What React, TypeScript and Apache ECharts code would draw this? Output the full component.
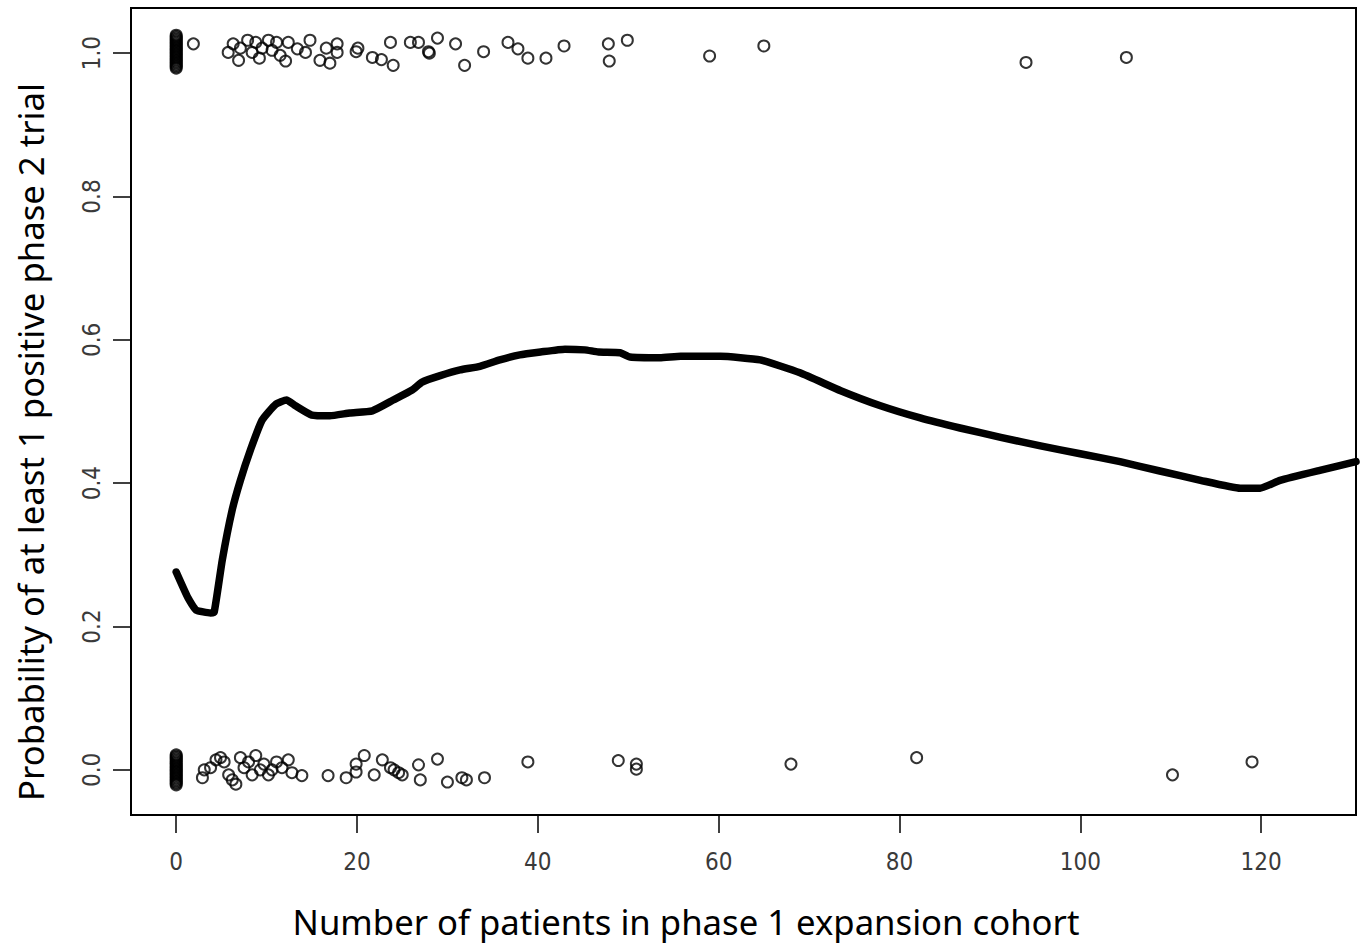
import React, { useEffect, useRef } from "react";
import * as echarts from "echarts";

const xTicks = [0, 20, 40, 60, 80, 100, 120];
const yTicks = [0, 0.2, 0.4, 0.6, 0.8, 1.0];

const zeroTopY = [1.025, 1.023, 1.021, 1.019, 1.017, 1.015, 1.013, 1.011, 1.009, 1.007, 1.005, 1.003, 1.001, 0.999, 0.997, 0.995, 0.993, 0.991, 0.989, 0.987, 0.985, 0.983, 0.981, 0.979];
const zeroBotY = [0.021, 0.019, 0.017, 0.015, 0.013, 0.011, 0.009, 0.007, 0.005, 0.003, 0.001, -0.001, -0.003, -0.005, -0.007, -0.009, -0.011, -0.013, -0.015, -0.017, -0.019, -0.021];

const topX = [1.9, 5.75, 6.3, 6.9, 7.1, 7.9, 8.4, 8.8, 9.2, 9.5, 10.2, 10.6, 11.1, 11.5, 12.1, 12.4, 13.4, 14.3, 14.8, 15.9, 16.6, 17.0, 17.8, 17.8, 19.9, 20.1, 21.7, 22.7, 23.7, 24.0, 25.9, 26.8, 27.9, 28.0, 28.9, 30.9, 31.9, 34.0, 36.7, 37.8, 38.9, 40.9, 42.9, 47.8, 47.9, 49.9, 59.0, 65.0, 94.0, 105.1];
const topY = [1.013, 1.001, 1.013, 0.990, 1.007, 1.018, 1.001, 1.015, 0.993, 1.007, 1.018, 1.004, 1.015, 0.997, 0.989, 1.015, 1.006, 1.001, 1.018, 0.990, 1.007, 0.986, 1.013, 1.001, 1.002, 1.007, 0.994, 0.991, 1.015, 0.983, 1.015, 1.015, 1.002, 1.000, 1.021, 1.013, 0.983, 1.002, 1.015, 1.006, 0.993, 0.993, 1.010, 1.013, 0.989, 1.018, 0.996, 1.010, 0.987, 0.994];

const botX = [2.9, 3.1, 3.8, 4.4, 4.9, 5.3, 5.8, 6.2, 6.6, 7.1, 7.5, 8.0, 8.4, 8.8, 9.3, 9.7, 10.2, 10.6, 11.1, 11.7, 12.4, 12.8, 13.9, 16.8, 18.8, 19.9, 19.9, 20.8, 21.9, 22.8, 23.7, 24.1, 24.6, 25.0, 26.8, 27.0, 28.9, 30.0, 31.6, 32.1, 34.1, 38.9, 48.9, 50.9, 50.9, 68.0, 81.9, 110.2, 119.0];
const botY = [-0.011, 0.000, 0.003, 0.014, 0.017, 0.011, -0.007, -0.014, -0.020, 0.017, 0.003, 0.011, -0.007, 0.020, 0.000, 0.008, -0.007, 0.000, 0.011, 0.003, 0.014, -0.004, -0.008, -0.008, -0.011, -0.003, 0.008, 0.020, -0.007, 0.014, 0.003, 0.000, -0.004, -0.007, 0.007, -0.014, 0.015, -0.017, -0.011, -0.014, -0.011, 0.011, 0.013, 0.008, 0.001, 0.008, 0.017, -0.007, 0.011];

const curveX = [0, 1.3, 2.2, 3.8, 4.2, 5.1, 6.2, 7.1, 8.2, 9.5, 11.0, 12.2, 13.2, 15.0, 17.0, 19.2, 21.7, 24.0, 26.1, 27.2, 29.2, 31.4, 33.6, 35.8, 38.0, 40.3, 43.0, 45.2, 46.7, 49.1, 50.2, 53.5, 55.8, 60.2, 64.6, 69.0, 73.5, 77.9, 82.3, 86.7, 91.2, 95.6, 100.0, 104.4, 108.8, 113.3, 117.7, 119.9, 122.1, 126.5, 130.5];
const curveY = [0.276, 0.240, 0.223, 0.219, 0.220, 0.293, 0.363, 0.404, 0.446, 0.488, 0.510, 0.516, 0.508, 0.495, 0.494, 0.498, 0.501, 0.516, 0.530, 0.541, 0.550, 0.558, 0.563, 0.572, 0.579, 0.583, 0.587, 0.586, 0.583, 0.582, 0.576, 0.575, 0.577, 0.577, 0.572, 0.554, 0.529, 0.508, 0.491, 0.477, 0.464, 0.452, 0.441, 0.430, 0.417, 0.404, 0.393, 0.393, 0.404, 0.418, 0.430];

const xTitle = "Number of patients in phase 1 expansion cohort";
const yTitle = "Probability of at least 1 positive phase 2 trial";

export default function App() {
  const ref = useRef<HTMLDivElement>(null);
  useEffect(() => {
    if (!ref.current) return;
    const chart = echarts.init(ref.current, null, { renderer: "svg" });
    const pts: number[][] = [];
    zeroTopY.forEach((y) => pts.push([0, y]));
    zeroBotY.forEach((y) => pts.push([0, y]));
    topX.forEach((x, i) => pts.push([x, topY[i]]));
    botX.forEach((x, i) => pts.push([x, botY[i]]));
    const labelFont = {
      fontFamily: "'DejaVu Sans Condensed', 'Liberation Sans', sans-serif",
      fontSize: 24,
      color: "#3a3a3a",
    };
    chart.setOption({
      animation: false,
      backgroundColor: "#fff",
      grid: {
        left: 131,
        right: 7,
        top: 8,
        bottom: 131,
        show: true,
        borderColor: "#000",
        borderWidth: 2,
        backgroundColor: "transparent",
      },
      xAxis: {
        type: "value",
        min: -5,
        max: 130.5,
        axisLine: { show: false, onZero: false },
        splitLine: { show: false },
        axisTick: { show: true, inside: false, length: 18, lineStyle: { color: "#000", width: 1.5 }, customValues: xTicks },
        axisLabel: { ...labelFont, margin: 35, customValues: xTicks, formatter: (v: number) => String(v) },
      },
      yAxis: {
        type: "value",
        min: -0.063,
        max: 1.063,
        axisLine: { show: false, onZero: false },
        splitLine: { show: false },
        axisTick: { show: true, inside: false, length: 18, lineStyle: { color: "#000", width: 1.5 }, customValues: yTicks },
        axisLabel: { ...labelFont, rotate: 90, margin: 27, customValues: yTicks, formatter: (v: number) => v.toFixed(1) },
      },
      series: [
        {
          type: "scatter",
          data: pts,
          symbol: "circle",
          symbolSize: 11,
          itemStyle: { color: "rgba(0,0,0,0)", borderColor: "#000", borderWidth: 2 },
          z: 2,
        },
        {
          type: "line",
          data: curveX.map((x, i) => [x, curveY[i]]),
          showSymbol: false,
          smooth: 0.15,
          lineStyle: { color: "#000", width: 7.5, cap: "round", join: "round" },
          clip: true,
          z: 3,
        },
      ],
      graphic: [
        {
          type: "text",
          x: 686,
          y: 921,
          style: {
            text: xTitle,
            fontFamily: "Noto Sans",
            fontSize: 34.7,
            fill: "#000",
            align: "center",
            verticalAlign: "middle",
          },
        },
        {
          type: "text",
          x: 30,
          y: 442,
          rotation: Math.PI / 2,
          style: {
            text: yTitle,
            fontFamily: "Noto Sans",
            fontSize: 34.7,
            fill: "#000",
            align: "center",
            verticalAlign: "middle",
          },
        },
      ],
    });
    return () => chart.dispose();
  }, []);
  return (
    <div
      ref={ref}
      style={{ position: "fixed", left: 0, top: 0, width: 1363, height: 946 }}
    />
  );
}
